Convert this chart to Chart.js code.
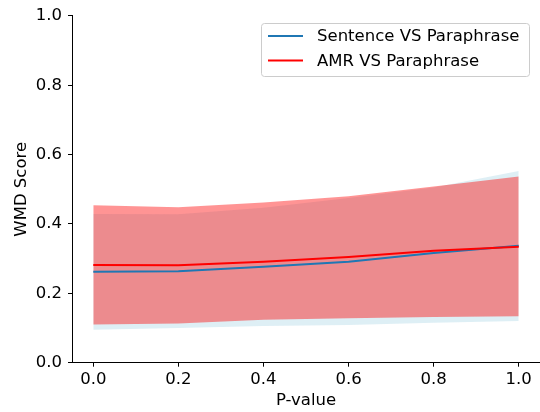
<!DOCTYPE html>
<html>
<head>
<meta charset="utf-8">
<script src="https://cdn.jsdelivr.net/npm/chart.js@4"></script>
<style>
  body { margin: 0; background: #fff; }
</style>
</head>
<body>
<canvas id="myChart" width="540" height="412"></canvas>
<script>
// p-values on the x axis
let pValues = [0, 0.2, 0.4, 0.6, 0.8, 1.0];
let xTicks = [0, 0.2, 0.4, 0.6, 0.8, 1.0];
let yTicks = [0, 0.2, 0.4, 0.6, 0.8, 1.0];

// Sentence VS Paraphrase: mean and band
let sentMean = [0.262, 0.264, 0.277, 0.291, 0.316, 0.337];
let sentUpper = [0.429, 0.428, 0.447, 0.475, 0.505, 0.553];
let sentLower = [0.095, 0.100, 0.106, 0.109, 0.115, 0.120];

// AMR VS Paraphrase: mean and band
let amrMean = [0.282, 0.281, 0.291, 0.305, 0.323, 0.334];
let amrUpper = [0.454, 0.448, 0.462, 0.480, 0.508, 0.537];
let amrLower = [0.110, 0.113, 0.124, 0.128, 0.132, 0.134];

let seriesNames = ["Sentence VS Paraphrase", "AMR VS Paraphrase"];

const FONT = "'DejaVu Sans', sans-serif";
const FS = 16.5;
const pts = ys => pValues.map((x, i) => ({ x: x, y: ys[i] }));

const band = {
    pointRadius: 0,
    borderWidth: 0,
    borderColor: "rgba(0,0,0,0)",
    tension: 0
};

// legend in the upper right of the plot, drawn like matplotlib's
const boxLegend = {
    id: "boxLegend",
    afterDraw(chart) {
        const ctx = chart.ctx;
        const items = [
            { label: seriesNames[0], color: "#1f77b4", y: 36 },
            { label: seriesNames[1], color: "red", y: 60.5 }
        ];
        ctx.save();
        ctx.fillStyle = "rgba(255,255,255,0.8)";
        ctx.strokeStyle = "#cccccc";
        ctx.lineWidth = 1;
        ctx.beginPath();
        ctx.roundRect(261.5, 23.5, 268, 53, 3);
        ctx.fill();
        ctx.stroke();
        ctx.font = FS + "px " + FONT;
        ctx.textBaseline = "middle";
        items.forEach(it => {
            ctx.strokeStyle = it.color;
            ctx.lineWidth = 2;
            ctx.beginPath();
            ctx.moveTo(268, it.y);
            ctx.lineTo(303, it.y);
            ctx.stroke();
            ctx.fillStyle = "#000";
            ctx.fillText(it.label, 317, it.y + 1);
        });
        ctx.restore();
    }
};

let myChart = document.getElementById("myChart").getContext("2d");
let wmdChart = new Chart(myChart, {
    type: "line",
    data: {
        datasets: [
            // 0: AMR line (top)
            { label: seriesNames[1], data: pts(amrMean), borderColor: "red", borderWidth: 2, pointRadius: 0, fill: false, order: 0 },
            // 1: Sentence line
            { label: seriesNames[0], data: pts(sentMean), borderColor: "#1f77b4", borderWidth: 2, pointRadius: 0, fill: false, order: 1 },
            // 2,3: AMR band
            Object.assign({ label: "amr lower", data: pts(amrLower), fill: false, order: 3 }, band),
            Object.assign({ label: "amr upper", data: pts(amrUpper), fill: 2, backgroundColor: "rgba(255,0,0,0.42)", order: 2 }, band),
            // 4,5: Sentence band
            Object.assign({ label: "sent lower", data: pts(sentLower), fill: false, order: 5 }, band),
            Object.assign({ label: "sent upper", data: pts(sentUpper), fill: 4, backgroundColor: "rgba(173,216,230,0.4)", order: 4 }, band)
        ]
    },
    options: {
        responsive: false,
        animation: false,
        layout: { padding: { top: 13, right: 0, left: 0, bottom: 0 } },
        plugins: {
            legend: { display: false },
            tooltip: { enabled: false },
            filler: { drawTime: "beforeDatasetsDraw" }
        },
        scales: {
            x: {
                type: "linear",
                min: -0.05,
                max: 1.05,
                afterBuildTicks: s => { s.ticks = xTicks.map(v => ({ value: v })); },
                afterFit: s => { s.height = 49.3; },
                grid: { drawOnChartArea: false, drawTicks: true, tickLength: 4, color: "#000" },
                border: { color: "#000", width: 1 },
                ticks: {
                    font: { family: FONT, size: FS },
                    color: "#000",
                    padding: 3,
                    maxRotation: 0,
                    callback: v => v.toFixed(1)
                },
                title: {
                    display: true,
                    text: "P-value",
                    font: { family: FONT, size: FS },
                    color: "#000",
                    padding: { top: 0, bottom: 1 }
                }
            },
            y: {
                min: 0,
                max: 1,
                afterBuildTicks: s => { s.ticks = yTicks.map(v => ({ value: v })); },
                afterFit: s => { s.width = 72; },
                grid: { drawOnChartArea: false, drawTicks: true, tickLength: 4, color: "#000" },
                border: { color: "#000", width: 1 },
                ticks: {
                    font: { family: FONT, size: FS },
                    color: "#000",
                    padding: 6,
                    callback: v => v.toFixed(1)
                },
                title: {
                    display: true,
                    text: "WMD Score",
                    font: { family: FONT, size: FS },
                    color: "#000",
                    padding: { top: 12, bottom: 0 }
                }
            }
        }
    },
    plugins: [boxLegend]
});
</script>
</body>
</html>
